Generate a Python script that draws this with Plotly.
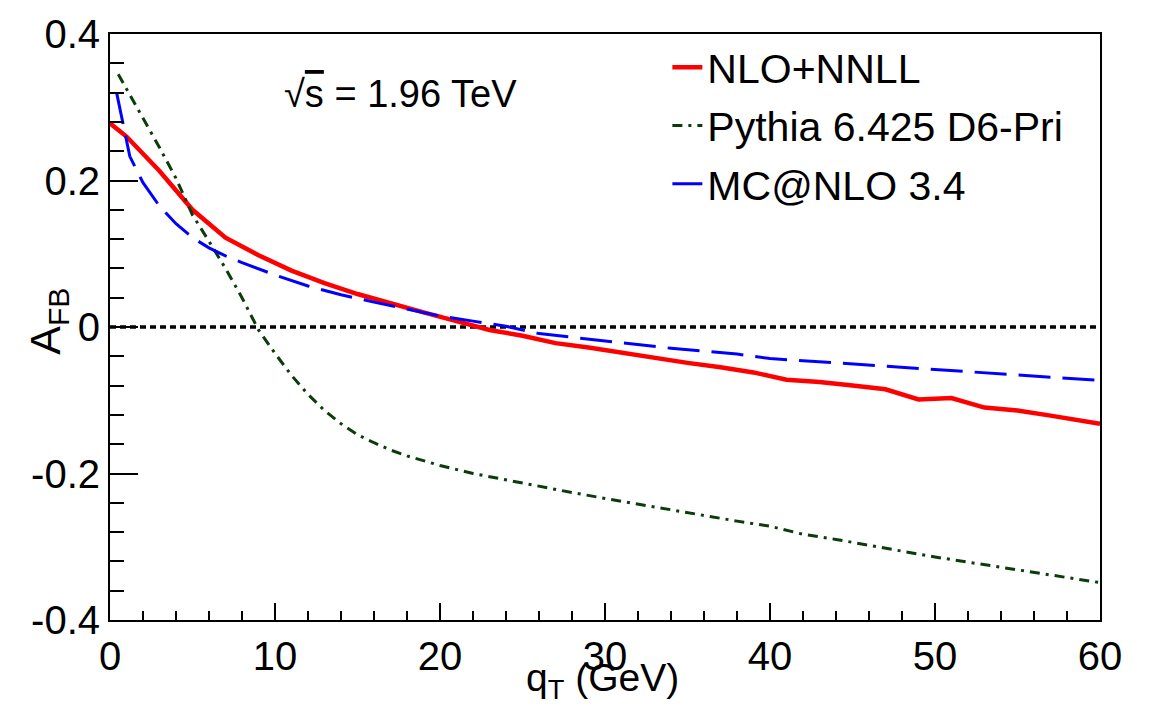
import plotly.graph_objects as go

# NLO+NNLL (red, solid)
qt_nnll = [0, 1, 3, 5, 7, 9, 11, 13, 15, 17, 19, 21, 23, 25, 27, 29, 31, 33, 35, 37,
           39, 41, 43, 45, 47, 49, 51, 53, 55, 57, 59, 60]
afb_nnll = [0.278, 0.260, 0.213, 0.160, 0.122, 0.098, 0.077, 0.060, 0.045, 0.032,
            0.020, 0.008, -0.004, -0.012, -0.022, -0.028, -0.035, -0.043, -0.049,
            -0.055, -0.062, -0.072, -0.075, -0.080, -0.085, -0.099, -0.097, -0.110,
            -0.114, -0.121, -0.129, -0.132]

# Pythia 6.425 D6-Pri (dark green, dash-dot)
qt_pythia = [0.5, 2, 3, 4, 5, 6, 7, 8, 9, 10, 11, 12, 13, 14, 15, 16, 17, 18, 20, 22,
             24, 26, 28, 30, 32, 34, 36, 38, 40, 42, 44, 46, 48, 50, 52, 54, 56, 58, 60]
afb_pythia = [0.345, 0.286, 0.245, 0.203, 0.153, 0.117, 0.080, 0.040, -0.004, -0.036,
              -0.066, -0.092, -0.114, -0.132, -0.147, -0.158, -0.168, -0.176, -0.189,
              -0.200, -0.209, -0.218, -0.226, -0.234, -0.242, -0.250, -0.258, -0.265,
              -0.272, -0.283, -0.290, -0.298, -0.307, -0.314, -0.321, -0.328, -0.335,
              -0.343, -0.349]

# MC@NLO 3.4 (blue, long dash)
qt_mcnlo = [0.4, 1.2, 2, 3, 4, 5, 6, 7, 8, 10, 12, 14, 16, 18, 20, 22, 24, 26, 28, 30,
            32, 34, 36, 38, 40, 42, 44, 46, 48, 50, 52, 54, 56, 58, 60]
afb_mcnlo = [0.320, 0.233, 0.197, 0.165, 0.141, 0.122, 0.108, 0.097, 0.088, 0.071,
             0.056, 0.044, 0.034, 0.024, 0.015, 0.008, 0.001, -0.009, -0.014, -0.020,
             -0.025, -0.029, -0.033, -0.037, -0.043, -0.046, -0.049, -0.052, -0.056,
             -0.059, -0.062, -0.065, -0.068, -0.071, -0.073]

# axis tick labels
x_tickvals = [0, 10, 20, 30, 40, 50, 60]
x_ticktext = ["0", "10", "20", "30", "40", "50", "60"]
y_tickvals = [-0.4, -0.2, 0, 0.2, 0.4]
y_ticktext = ["-0.4", "-0.2", "0", "0.2", "0.4"]

FONT = "Liberation Sans, Arial, Helvetica, sans-serif"

fig = go.Figure()
fig.add_trace(go.Scatter(x=qt_nnll, y=afb_nnll, mode="lines", name="NLO+NNLL",
                         legendgroup="a", line=dict(color="#ff0000", width=4.5)))
fig.add_trace(go.Scatter(x=qt_pythia, y=afb_pythia, mode="lines", name="Pythia 6.425 D6-Pri",
                         legendgroup="b",
                         line=dict(color="#0b3d0b", width=3, dash="10px,6px,3px,6px")))
fig.add_trace(go.Scatter(x=qt_mcnlo, y=afb_mcnlo, mode="lines", name="MC@NLO 3.4",
                         legendgroup="c",
                         line=dict(color="#0000ff", width=3, dash="32px,12px")))

fig.add_hline(y=0, line=dict(color="black", width=3.5, dash="6px,4px"), layer="below")

fig.update_layout(
    width=1154, height=707,
    margin=dict(l=110, r=54, t=30, b=87),
    paper_bgcolor="white", plot_bgcolor="white",
    font=dict(family=FONT, size=39, color="black"),
    showlegend=True,
    legend=dict(x=0.563, y=1.0, xanchor="left", yanchor="top",
                bgcolor="rgba(0,0,0,0)", font=dict(size=41), tracegroupgap=2),
    xaxis=dict(range=[0, 60], showgrid=False, zeroline=False,
               showline=True, linecolor="black", linewidth=2, mirror=True,
               ticks="inside", ticklen=17, tickwidth=2, tickcolor="black",
               tickmode="array", tickvals=x_tickvals, ticktext=x_ticktext,
               minor=dict(ticks="inside", ticklen=9, tickwidth=2, tickcolor="black",
                          dtick=2, tick0=0, showgrid=False),
               tickfont=dict(size=40)),
    yaxis=dict(range=[-0.4, 0.4], showgrid=False, zeroline=False,
               showline=True, linecolor="black", linewidth=2, mirror=True,
               ticks="inside", ticklen=28, tickwidth=2, tickcolor="black",
               tickmode="array", tickvals=y_tickvals, ticktext=y_ticktext,
               minor=dict(ticks="inside", ticklen=14, tickwidth=2, tickcolor="black",
                          dtick=0.04, tick0=-0.4, showgrid=False),
               tickfont=dict(size=40)),
    annotations=[
        dict(text="q<sub>T</sub> (GeV)", xref="paper", yref="paper", x=0.497, y=-0.104,
             xanchor="center", yanchor="middle", showarrow=False, font=dict(size=39)),
        dict(text="A<sub>FB</sub>", xref="paper", yref="paper", x=-0.062, y=0.51,
             xanchor="center", yanchor="middle", textangle=-90, showarrow=False,
             font=dict(size=43)),
        dict(text="\u221a<span style='text-decoration:overline'>s</span> = 1.96 TeV",
             xref="paper", yref="paper", x=0.293, y=0.898,
             xanchor="center", yanchor="middle", showarrow=False, font=dict(size=38)),
    ],
)

fig.write_html("out.html")
